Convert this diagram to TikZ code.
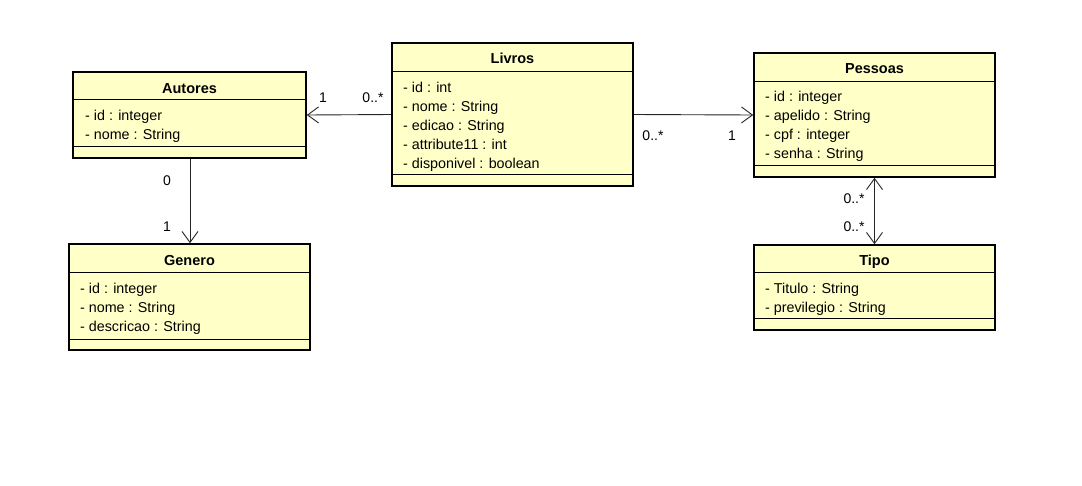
\documentclass[tikz,border=0pt]{standalone}
\usepackage{fontspec}
\setmainfont{Liberation Sans}
\usetikzlibrary{arrows.meta}
\definecolor{classfill}{RGB}{255,255,200}
\begin{document}
\begin{tikzpicture}[x=1pt,y=-1pt,
  classbox/.style={draw=black,line width=1.6pt,fill=classfill,rectangle,inner sep=0pt},
  divider/.style={draw=black,line width=1pt},
  title/.style={font=\fontsize{14.5}{16}\selectfont\bfseries,inner sep=0pt,text height=10.5pt,text depth=3pt,yshift=-1.8pt},
  attr/.style={font=\fontsize{14.3}{16}\selectfont,anchor=west,inner sep=0pt,text height=10.5pt,text depth=3pt,yshift=-1.8pt},
  mult/.style={font=\fontsize{14}{16}\selectfont,inner sep=0pt,text height=10.5pt,text depth=3pt,yshift=-1.5pt},
  assoc/.style={draw=black!85,line width=0.9pt},
  tip/.style={-{Straight Barb[length=11pt,width=16pt,line width=0.9pt]}}]
\useasboundingbox[fill=white] (0,0) rectangle (1082,485);

% Autores
\node[classbox,minimum width=233pt,minimum height=86pt] (A) at (189.5,115) {};
\draw[divider] (73,99) -- (306,99);
\draw[divider] (73,146) -- (306,146);
\node[title] (At) at (189.5,88) {Autores};
\node[attr] (A1) at (85,115) {- id : integer};
\node[attr] (A2) at (85,134) {- nome : String};

% Genero
\node[classbox,minimum width=241pt,minimum height=106pt] (G) at (189.5,297) {};
\draw[divider] (69,272) -- (310,272);
\draw[divider] (69,339) -- (310,339);
\node[title] (Gt) at (189.5,260) {Genero};
\node[attr] (G1) at (80,288) {- id : integer};
\node[attr] (G2) at (80,307) {- nome : String};
\node[attr] (G3) at (80,326) {- descricao : String};

% Livros
\node[classbox,minimum width=241pt,minimum height=143pt] (L) at (512.5,114.5) {};
\draw[divider] (392,71) -- (633,71);
\draw[divider] (392,174) -- (633,174);
\node[title] (Lt) at (512.5,58) {Livros};
\node[attr] (L1) at (403,87) {- id : int};
\node[attr] (L2) at (403,106) {- nome : String};
\node[attr] (L3) at (403,125) {- edicao : String};
\node[attr] (L4) at (403,144) {- attribute11 : int};
\node[attr] (L5) at (403,163) {- disponivel : boolean};

% Pessoas
\node[classbox,minimum width=241pt,minimum height=124pt] (P) at (874.5,115) {};
\draw[divider] (754,81) -- (995,81);
\draw[divider] (754,165) -- (995,165);
\node[title] (Pt) at (874.5,68) {Pessoas};
\node[attr] (P1) at (765,96) {- id : integer};
\node[attr] (P2) at (765,115) {- apelido : String};
\node[attr] (P3) at (765,134) {- cpf : integer};
\node[attr] (P4) at (765,153) {- senha : String};

% Tipo
\node[classbox,minimum width=241pt,minimum height=85pt] (T) at (874.5,287.5) {};
\draw[divider] (754,272) -- (995,272);
\draw[divider] (754,318) -- (995,318);
\node[title] (Tt) at (874.5,260) {Tipo};
\node[attr] (T1) at (765,288) {- Titulo : String};
\node[attr] (T2) at (765,307) {- previlegio : String};

% associations
\draw[assoc,tip] (L.west) -- (A.east);
\draw[assoc,tip] (L.east) -- (P.west);
\draw[assoc,tip] (A.south -| 190,0) -- (G.north -| 190,0);
\draw[assoc,{Straight Barb[length=11pt,width=16pt,line width=0.9pt]}-{Straight Barb[length=11pt,width=16pt,line width=0.9pt]}] (P.south) -- (T.north);

% multiplicities
\node[mult] (m1) at (323,97) {1};
\node[mult] (m2) at (373,97) {0..*};
\node[mult] (m3) at (653,135) {0..*};
\node[mult] (m4) at (732,135) {1};
\node[mult] (m5) at (167,180) {0};
\node[mult] (m6) at (167,226) {1};
\node[mult] (m7) at (854,198) {0..*};
\node[mult] (m8) at (854,226) {0..*};
\end{tikzpicture}
\end{document}
